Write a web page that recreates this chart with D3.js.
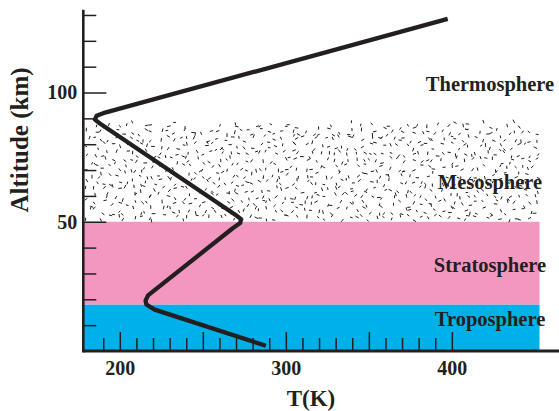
<!DOCTYPE html>
<html>
<head>
<meta charset="utf-8">
<script src="https://cdn.jsdelivr.net/npm/d3@7"></script>
<style>
  html, body { margin: 0; padding: 0; background: #fff; }
  svg { display: block; }
  text { font-family: "Liberation Serif", "Times New Roman", serif; font-weight: bold; fill: #231F20; }
</style>
</head>
<body>
<svg id="chart" width="559" height="411"></svg>
<script>
// ---- data ----
const tempK  = [288, 221, 216, 215.5, 217, 268, 272.5, 273, 270, 188, 185, 186, 190, 397.5];
const altKm  = [2, 16, 18, 19.5, 21.5, 47.5, 49.5, 51, 52.5, 88, 89.5, 91, 92, 128.5];

const layerNames  = ["Troposphere", "Stratosphere", "Mesosphere", "Thermosphere"];
const layerBottom = [0, 18, 50, 89];
const layerTop    = [18, 50, 89, 132];
const layerFill   = ["#00B0E8", "#F397C0", "stipple", "none"];
const layerLabelAlt = [9.5, 30.5, 62.5, 100.5];

const xMajorTicks = [200, 250, 300, 350, 400];
const xMinorTicks = [190, 210, 220, 230, 240, 260, 270, 280, 290, 310, 320, 330, 340, 360, 370, 380, 390];
const xLabelTicks = [200, 300, 400];
const yMajorTicks = [50, 100];
const yMinorTicks = [10, 20, 30, 40, 60, 70, 80, 90, 110, 120, 130];

const xTitle = "T(K)";
const yTitle = "Altitude (km)";
const bandRightT = 452.8;

// ---- scales ----
const svg = d3.select("#chart");
const x = d3.scaleLinear().domain([178, 464]).range([83.3, 558.1]);
const y = d3.scaleLinear().domain([0, 132]).range([351, 9.8]);
const ink = "#231F20";

// ---- bands ----
const layers = layerNames.map((n, i) => ({name: n, b: layerBottom[i], t: layerTop[i], fill: layerFill[i], la: layerLabelAlt[i]}));
svg.append("g").selectAll("rect")
  .data(layers.filter(d => d.fill !== "none" && d.fill !== "stipple"))
  .join("rect")
  .attr("x", x(178))
  .attr("width", x(bandRightT) - x(178))
  .attr("y", d => y(d.t))
  .attr("height", d => y(d.b) - y(d.t))
  .attr("fill", d => d.fill);

// ---- stipple texture (decorative, deterministic) ----
function hash(i) { const s = Math.sin(i * 12.9898 + 78.233) * 43758.5453; return s - Math.floor(s); }
const st = layers.find(d => d.fill === "stipple");
const sx0 = x(178) + 2, sx1 = x(bandRightT) - 1;
const sy0 = y(st.t), sy1 = y(st.b);
const dashes = [];
let k = 0;
const step = 7.2;
for (let gy = sy0; gy < sy1; gy += step) {
  for (let gx = sx0; gx < sx1; gx += step) {
    k++;
    const px = gx + hash(k) * step;
    const py = gy + hash(k + 5000) * step;
    if (px > sx1 || py > sy1 - 1) continue;
    if (py < sy0 + hash(k + 9000) * 4) continue;
    const a = hash(k + 20000) * Math.PI;
    const L = 1.3 + hash(k + 30000) * 0.6;
    dashes.push([px - Math.cos(a) * L, py - Math.sin(a) * L, px + Math.cos(a) * L, py + Math.sin(a) * L]);
  }
}
svg.append("g").attr("stroke", ink).attr("stroke-width", 1)
  .selectAll("line").data(dashes).join("line")
  .attr("x1", d => d[0]).attr("y1", d => d[1]).attr("x2", d => d[2]).attr("y2", d => d[3]);

// ---- temperature profile ----
const pts = tempK.map((t, i) => [t, altKm[i]]);
svg.append("path")
  .datum(pts)
  .attr("fill", "none")
  .attr("stroke", ink)
  .attr("stroke-width", 4.3)
  .attr("stroke-linejoin", "round")
  .attr("stroke-linecap", "butt")
  .attr("d", d3.line().x(d => x(d[0])).y(d => y(d[1])));

// ---- x axis ----
const gx = svg.append("g").attr("transform", `translate(0,${y(0)})`);
gx.call(d3.axisBottom(x).tickValues(xMinorTicks).tickSizeInner(-13).tickSizeOuter(0).tickFormat(""));
gx.call(g => g.select(".domain").remove());
const gx2 = svg.append("g").attr("transform", `translate(0,${y(0)})`);
gx2.call(d3.axisBottom(x).tickValues(xMajorTicks).tickSizeInner(-19).tickSizeOuter(0)
  .tickPadding(10).tickFormat(d => xLabelTicks.includes(d) ? d : ""));
gx2.select(".domain").attr("stroke-width", 3).attr("d", `M${x(178)},0H559`);
svg.selectAll(".tick line").attr("stroke", ink).attr("stroke-width", 1.5);
gx2.selectAll(".tick text").attr("font-size", 20).attr("font-family", "Liberation Serif").attr("font-weight", "bold").attr("fill", ink);

// ---- y axis ----
const gy = svg.append("g").attr("transform", `translate(${x(178)},0)`);
gy.call(d3.axisLeft(y).tickValues(yMinorTicks).tickSizeInner(-13).tickSizeOuter(0).tickFormat(""));
gy.select(".domain").remove();
const gy2 = svg.append("g").attr("transform", `translate(${x(178)},0)`);
gy2.call(d3.axisLeft(y).tickValues(yMajorTicks).tickSizeInner(-23).tickSizeOuter(0).tickPadding(6));
gy2.select(".domain").attr("stroke-width", 2.6).attr("d", `M0,${y(0) + 1.5}V${y(132)}`);
svg.selectAll(".tick line").attr("stroke", ink).attr("stroke-width", 1.5);
gy2.selectAll(".tick text").attr("font-size", 20).attr("font-family", "Liberation Serif").attr("font-weight", "bold").attr("fill", ink);
svg.selectAll(".domain").attr("stroke", ink);

// ---- layer labels ----
svg.append("g").selectAll("text").data(layers).join("text")
  .attr("x", 490)
  .attr("y", d => y(d.la))
  .attr("text-anchor", "middle")
  .attr("font-size", 20.5)
  .text(d => d.name);

// ---- titles ----
svg.append("text").attr("x", 311).attr("y", 406).attr("text-anchor", "middle")
  .attr("font-size", 23).text(xTitle);
svg.append("text").attr("transform", "translate(28,140) rotate(-90)").attr("text-anchor", "middle")
  .attr("font-size", 25).text(yTitle);
</script>
</body>
</html>
